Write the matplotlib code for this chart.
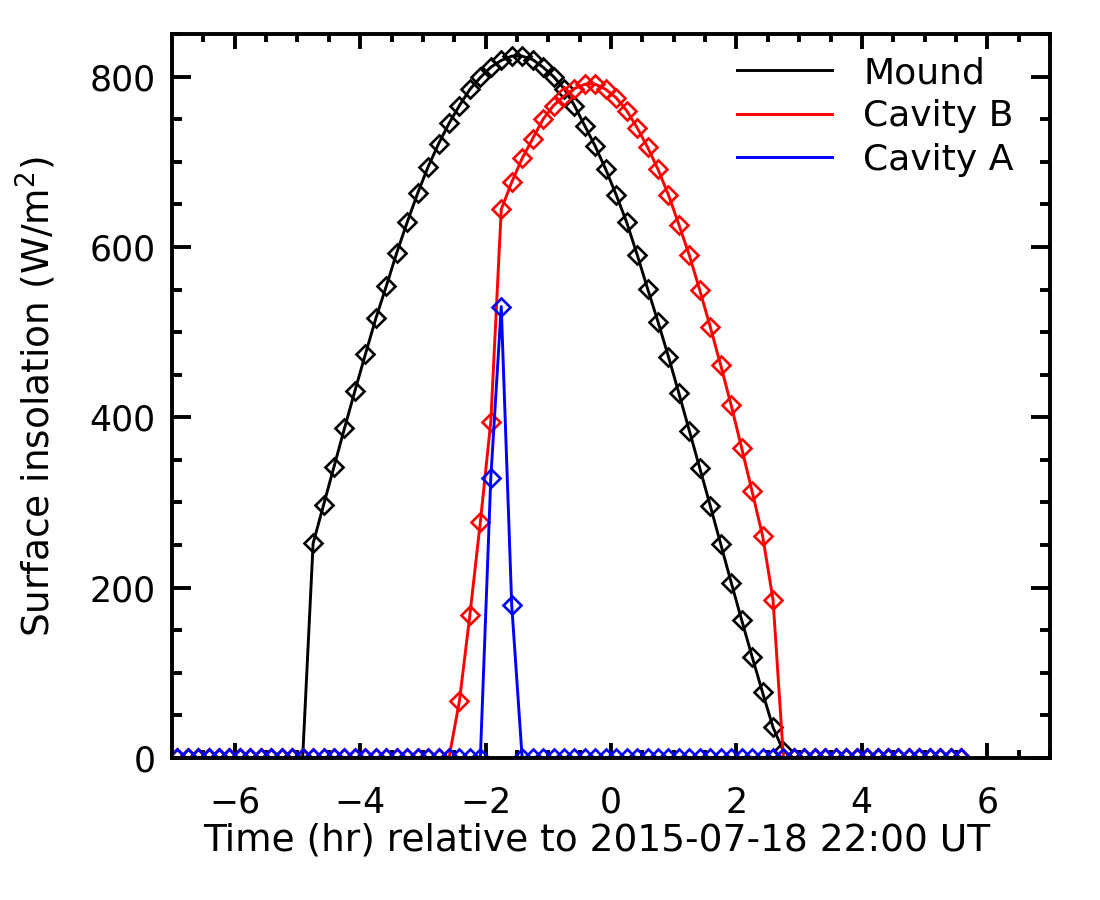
import matplotlib
matplotlib.use('Agg')
import matplotlib.pyplot as plt
from matplotlib.ticker import MultipleLocator
from matplotlib.lines import Line2D
import numpy as np

plt.rcParams['font.family'] = ['DejaVu Sans']
plt.rcParams['mathtext.default'] = 'regular'

# sampling grid: 10-minute steps starting 6 h 55 min before 22:00 UT
start_hr = -(6 + 55 / 60)
step_min = 10
n_samples = 76
times = start_hr + np.arange(n_samples) * step_min / 60.0

mound = [0] * 13 + [
    252, 297, 342, 387, 431, 474, 516, 554, 593, 629, 663, 694, 721, 745,
    766, 785, 799, 811, 819, 824, 824, 820, 811, 800, 786, 766, 742, 718,
    691, 661, 629, 591, 551, 512, 471, 428, 384, 340, 296, 251, 206, 162,
    119, 77, 36, 8] + [0] * 17

cavity_b = [0] * 27 + [
    67, 168, 277, 395, 644, 676, 704, 727, 750, 766, 777, 786, 791, 791,
    785, 775, 760, 740, 717, 691, 661, 626, 590, 549, 506, 461, 414, 364,
    313, 261, 186] + [0] * 18

cavity_a = [0] * 30 + [329, 530, 180] + [0] * 43

series = [("Mound", mound, "black"),
          ("Cavity B", cavity_b, "red"),
          ("Cavity A", cavity_a, "blue")]

W, H = 1100, 900
fig = plt.figure(figsize=(W / 100, H / 100), dpi=100)
ax = fig.add_axes([172 / W, 142 / H, 878 / W, 724 / H])

for name, vals, col in series:
    ax.plot(times, vals, color=col, lw=2.1, marker='D', ms=9.3,
            mfc='none', mec=col, mew=1.9)

ax.set_xlim(-7, 7)
ax.set_ylim(0, 850)
ax.xaxis.set_major_locator(MultipleLocator(2))
ax.xaxis.set_minor_locator(MultipleLocator(0.5))
ax.yaxis.set_major_locator(MultipleLocator(200))
ax.yaxis.set_minor_locator(MultipleLocator(50))

for s in ax.spines.values():
    s.set_linewidth(2.8)

ax.tick_params(axis='both', which='both', direction='in', top=True,
               right=True, width=2.8, labelsize=25)
ax.tick_params(axis='x', which='major', length=10.8, pad=20)
ax.tick_params(axis='x', which='minor', length=5.8)
ax.tick_params(axis='y', which='major', length=13.7, pad=12)
ax.tick_params(axis='y', which='minor', length=7.2)

ax.set_xlabel("Time (hr) relative to 2015-07-18 22:00 UT", fontsize=27)
ax.set_ylabel("Surface insolation (W/m$^2$)", fontsize=27)
ax.xaxis.set_label_coords((597 - 172) / 878, -(823 - 758) / 724)
ax.yaxis.set_label_coords(-(172 - 58) / 878, 0.5)

handles = [Line2D([0], [0], color=c, lw=2.1) for _, _, c in series]
labels = [nm for nm, _, _ in series]
leg = ax.legend(handles, labels, loc='upper left',
                bbox_to_anchor=(737 / W, 1 - 56 / H),
                bbox_transform=fig.transFigure, frameon=False,
                fontsize=26, handlelength=2.63, handletextpad=0.86,
                labelspacing=0.26, borderpad=0, borderaxespad=0)

fig.savefig("out.png", dpi=100)
